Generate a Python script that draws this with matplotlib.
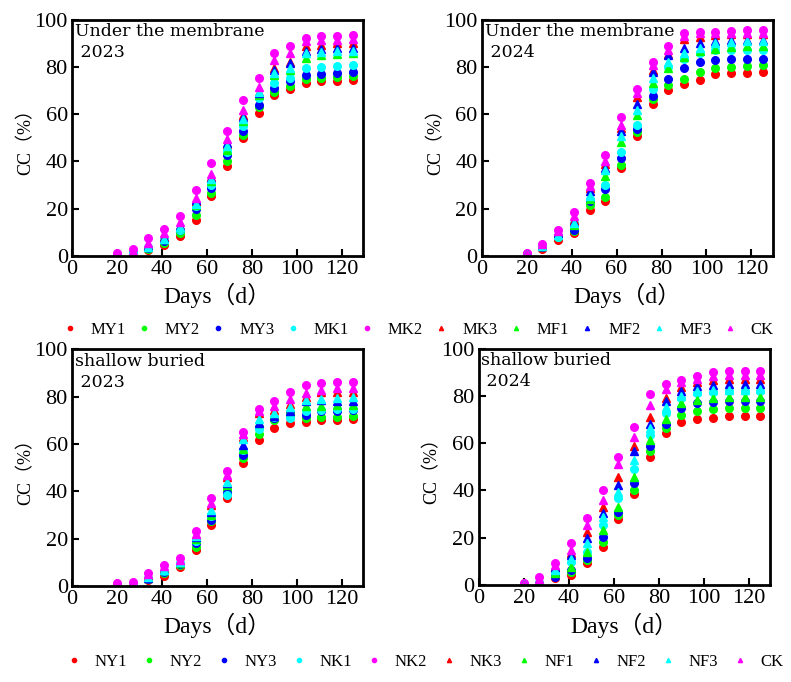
"""
CC (%) over days, film-covered vs shallow buried, 2023 / 2024.
"""
import matplotlib
matplotlib.use("Agg")
import matplotlib.pyplot as plt

plt.rcParams['font.family'] = ['Liberation Serif', 'Noto Sans CJK SC', 'DejaVu Serif']

# Variables
days = [20, 27, 34, 41, 48, 55, 62, 69, 76, 83, 90, 97, 104, 111, 118, 125]

m_names = ["MY1", "MY2", "MY3", "MK1", "MK2", "MK3", "MF1", "MF2", "MF3", "CK"]
n_names = ["NY1", "NY2", "NY3", "NK1", "NK2", "NK3", "NF1", "NF2", "NF3", "CK"]
colors = ["#ff0000", "#00ff00", "#0000ff", "#00ffff", "#ff00ff",
          "#ff0000", "#00ff00", "#0000ff", "#00ffff", "#ff00ff"]
markers = ["o", "o", "o", "o", "o", "^", "^", "^", "^", "^"]

# Under the membrane 2023
m23_MY1 = [0.3, 0.8, 2.3, 4.7, 8.2, 15.3, 25.4, 38.0, 50.0, 60.5, 68.2, 70.6, 73.4, 74.0, 74.2, 74.3]
m23_MY2 = [0.4, 1.0, 2.8, 5.6, 9.6, 17.4, 26.8, 40.0, 51.3, 63.0, 69.6, 71.8, 74.9, 75.5, 75.7, 76.3]
m23_MY3 = [0.4, 1.0, 3.2, 6.2, 11.0, 19.8, 28.7, 42.8, 53.0, 63.8, 71.0, 73.9, 76.7, 77.2, 77.4, 78.0]
m23_MK1 = [0.5, 1.1, 3.5, 7.0, 11.0, 21.0, 30.0, 44.0, 54.8, 66.8, 73.0, 75.3, 79.5, 80.2, 80.5, 81.0]
m23_MK2 = [1.0, 2.8, 7.5, 11.3, 17.0, 28.0, 39.5, 52.7, 66.0, 75.3, 85.9, 89.0, 92.2, 93.0, 93.2, 93.6]
m23_MK3 = [0.5, 1.2, 4.0, 7.8, 12.8, 23.0, 33.5, 47.5, 59.5, 69.5, 79.5, 82.3, 88.7, 89.5, 90.0, 90.1]
m23_MF1 = [0.4, 1.0, 3.5, 7.0, 12.0, 21.5, 31.5, 45.0, 57.0, 68.0, 76.7, 78.8, 83.8, 85.0, 85.6, 85.8]
m23_MF2 = [0.5, 1.2, 4.0, 7.5, 12.4, 23.7, 33.0, 47.7, 59.0, 69.0, 78.8, 81.6, 86.6, 87.8, 88.0, 88.2]
m23_MF3 = [0.5, 1.1, 3.8, 7.2, 12.0, 22.0, 32.5, 46.5, 58.0, 69.5, 77.5, 79.5, 85.9, 86.4, 86.6, 86.8]
m23_CK = [0.8, 2.0, 5.5, 9.5, 14.5, 24.4, 34.7, 49.4, 61.6, 71.5, 83.0, 85.9, 90.8, 91.3, 91.5, 91.8]

# Under the membrane 2024
m24_MY1 = [0.5, 2.8, 6.8, 9.6, 19.5, 23.3, 37.0, 50.8, 64.4, 70.3, 72.7, 74.6, 77.1, 77.4, 77.6, 77.8]
m24_MY2 = [0.6, 3.5, 7.8, 10.3, 21.6, 25.0, 38.6, 52.3, 66.4, 72.5, 74.9, 77.7, 79.5, 80.2, 80.5, 81.0]
m24_MY3 = [0.6, 3.8, 8.5, 11.0, 23.0, 28.2, 41.4, 53.7, 67.8, 75.0, 79.5, 82.0, 83.0, 83.3, 83.3, 83.3]
m24_MK1 = [0.7, 4.0, 8.0, 13.8, 24.0, 30.0, 43.8, 55.5, 70.6, 80.2, 83.3, 85.9, 87.0, 87.3, 87.3, 87.3]
m24_MK2 = [1.0, 5.0, 11.0, 18.5, 31.0, 42.8, 58.8, 70.6, 82.0, 89.0, 94.6, 95.0, 94.8, 95.3, 95.5, 95.6]
m24_MK3 = [0.7, 4.2, 9.5, 15.3, 28.7, 39.0, 54.0, 67.2, 78.8, 85.6, 91.8, 92.7, 93.6, 93.8, 94.0, 94.0]
m24_MF1 = [0.6, 4.0, 9.0, 13.0, 24.0, 33.9, 48.4, 59.7, 73.2, 79.5, 84.2, 86.6, 87.6, 88.5, 88.7, 88.7]
m24_MF2 = [0.7, 4.2, 9.5, 14.5, 27.3, 37.0, 52.7, 64.4, 78.0, 85.2, 88.0, 90.1, 90.8, 91.3, 91.5, 91.5]
m24_MF3 = [0.6, 4.0, 9.0, 14.0, 25.5, 36.4, 50.6, 61.9, 75.3, 82.0, 85.9, 88.0, 90.1, 90.6, 90.8, 90.8]
m24_CK = [0.8, 4.8, 10.5, 16.7, 29.4, 40.0, 55.5, 69.0, 81.0, 87.3, 93.0, 94.3, 94.3, 94.5, 94.6, 94.6]

# Shallow buried 2023
n23_NY1 = [0.2, 0.4, 2.3, 4.2, 7.9, 15.0, 25.8, 37.0, 51.8, 61.7, 66.6, 68.7, 69.4, 69.9, 70.1, 70.4]
n23_NY2 = [0.2, 0.5, 2.8, 5.5, 8.8, 16.3, 27.2, 40.3, 53.9, 64.2, 69.9, 71.3, 70.8, 71.3, 71.5, 71.8]
n23_NY3 = [0.3, 0.5, 3.0, 6.0, 9.4, 18.0, 27.9, 39.2, 55.4, 67.3, 70.8, 73.0, 72.3, 73.7, 73.9, 74.4]
n23_NK1 = [0.3, 0.6, 3.2, 6.2, 9.6, 19.0, 29.3, 38.5, 57.2, 66.2, 71.5, 70.8, 73.7, 74.4, 74.6, 74.9]
n23_NK2 = [1.0, 1.8, 5.4, 8.9, 11.7, 23.0, 37.3, 48.7, 65.2, 74.8, 78.3, 81.7, 84.9, 85.6, 86.0, 86.3]
n23_NK3 = [0.4, 0.8, 4.0, 7.0, 10.2, 21.5, 34.2, 46.2, 63.0, 73.0, 74.4, 76.9, 80.0, 81.7, 82.1, 82.1]
n23_NF1 = [0.3, 0.6, 3.4, 6.5, 9.8, 20.0, 30.0, 42.7, 57.7, 68.7, 72.3, 74.4, 76.0, 76.0, 76.5, 76.5]
n23_NF2 = [0.3, 0.7, 3.5, 6.6, 10.0, 20.5, 31.4, 43.4, 59.6, 69.0, 71.8, 73.7, 77.9, 78.6, 78.3, 78.3]
n23_NF3 = [0.4, 0.7, 3.6, 6.8, 10.2, 21.0, 32.1, 44.0, 62.0, 70.4, 73.0, 75.5, 78.6, 78.9, 79.3, 80.0]
n23_CK = [0.8, 1.5, 4.8, 8.2, 11.0, 22.0, 34.9, 46.9, 64.2, 73.7, 76.0, 78.9, 81.4, 82.8, 83.5, 83.5]

# Shallow buried 2024
n24_NY1 = [0.2, 0.6, 3.2, 4.2, 9.5, 16.2, 27.8, 38.6, 54.1, 64.3, 68.8, 70.2, 70.6, 71.3, 71.3, 71.5]
n24_NY2 = [0.2, 0.8, 4.2, 5.6, 10.6, 18.4, 29.7, 40.3, 56.5, 66.4, 72.0, 73.7, 74.4, 74.7, 74.7, 74.8]
n24_NY3 = [0.3, 0.8, 3.5, 6.6, 11.3, 20.2, 31.1, 43.1, 58.6, 68.2, 74.9, 77.0, 77.3, 77.7, 77.7, 77.9]
n24_NK1 = [0.3, 1.0, 5.5, 9.9, 14.1, 25.4, 36.7, 49.0, 63.6, 72.7, 79.1, 81.2, 81.5, 81.9, 81.9, 82.0]
n24_NK2 = [0.7, 3.5, 9.5, 17.7, 28.2, 40.3, 54.1, 66.8, 80.8, 85.2, 86.6, 88.3, 90.0, 90.4, 90.5, 90.5]
n24_NK3 = [0.4, 1.5, 7.5, 13.4, 22.6, 32.9, 45.6, 58.9, 71.0, 79.1, 83.8, 85.7, 86.9, 87.1, 87.1, 87.2]
n24_NF1 = [0.3, 1.0, 5.0, 7.8, 14.1, 23.3, 33.2, 45.9, 61.2, 70.2, 77.0, 78.4, 79.1, 79.5, 79.5, 79.6]
n24_NF2 = [0.4, 1.3, 7.5, 12.7, 19.8, 30.4, 42.4, 56.5, 68.2, 77.7, 81.9, 84.0, 84.7, 85.0, 85.0, 85.0]
n24_NF3 = [0.3, 1.2, 6.6, 10.9, 17.7, 29.0, 39.5, 53.0, 66.4, 75.3, 80.1, 81.9, 82.6, 82.6, 82.6, 82.7]
n24_CK = [0.6, 2.5, 8.5, 14.8, 25.4, 36.0, 51.3, 62.6, 76.3, 82.9, 85.7, 87.1, 88.3, 88.6, 88.6, 88.6]

m23 = [m23_MY1, m23_MY2, m23_MY3, m23_MK1, m23_MK2, m23_MK3, m23_MF1, m23_MF2, m23_MF3, m23_CK]
m24 = [m24_MY1, m24_MY2, m24_MY3, m24_MK1, m24_MK2, m24_MK3, m24_MF1, m24_MF2, m24_MF3, m24_CK]
n23 = [n23_NY1, n23_NY2, n23_NY3, n23_NK1, n23_NK2, n23_NK3, n23_NF1, n23_NF2, n23_NF3, n23_CK]
n24 = [n24_NY1, n24_NY2, n24_NY3, n24_NK1, n24_NK2, n24_NK3, n24_NF1, n24_NF2, n24_NF3, n24_CK]

panels = [
    ([0.091, 0.625, 0.368, 0.346], m23, m_names, "Under the membrane\n 2023"),
    ([0.609, 0.625, 0.368, 0.346], m24, m_names, "Under the membrane\n 2024"),
    ([0.091, 0.141, 0.368, 0.347], n23, n_names, "shallow buried\n 2023"),
    ([0.605, 0.142, 0.369, 0.347], n24, n_names, "shallow buried\n 2024"),
]

fig = plt.figure(figsize=(7.91, 6.82), dpi=100)

axes = []
for rect, series, names, label in panels:
    ax = fig.add_axes(rect)
    for vals, name, c, mk in zip(series, names, colors, markers):
        ax.plot(days, vals, linestyle="none", marker=mk, color=c,
                markersize=5.5, label=name)
    ax.set_xlim(0, 129.5)
    ax.set_ylim(0, 100)
    ax.set_xticks(range(0, 121, 20))
    ax.set_yticks(range(0, 101, 20))
    ax.tick_params(direction="in", length=5, width=1.5, labelsize=16,
                   top=False, right=False, pad=3)
    for s in ax.spines.values():
        s.set_linewidth(2)
    ax.set_xlabel("Days（d）", fontsize=17, labelpad=3)
    ax.set_ylabel("CC（%）", fontsize=13, labelpad=0)
    ax.text(0.01, 0.985, label, transform=ax.transAxes, va="top", ha="left",
            fontsize=12.5, family=["DejaVu Serif"], linespacing=1.3)
    axes.append(ax)

# legends
for ax, y, x0, cs in [(axes[0], 1 - 330 / 682, 0.528, 0.6),
                      (axes[2], 1 - 662 / 682, 0.537, 0.8)]:
    h, l = ax.get_legend_handles_labels()
    fig.legend(h, l, loc="center", bbox_to_anchor=(x0, y), ncol=10,
               frameon=False, fontsize=12, markerscale=0.55,
               handlelength=1.0, handletextpad=0.75, columnspacing=cs)

fig.savefig("out.png", dpi=100)
